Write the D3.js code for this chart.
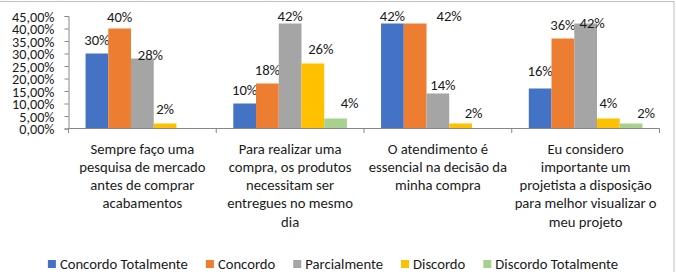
<!DOCTYPE html>
<html>
<head>
<meta charset="utf-8">
<script src="https://cdn.jsdelivr.net/npm/d3@7"></script>
<style>
  body { margin: 0; background: #fff; }
  svg { display: block; font-family: Carlito, "Liberation Sans Narrow", "Arial Narrow", sans-serif; }
</style>
</head>
<body>
<svg width="676" height="272"></svg>
<script>
const categories = [
    'Sempre faço uma\npesquisa de mercado\nantes de comprar\nacabamentos',
    'Para realizar uma\ncompra, os produtos\nnecessitam ser\nentregues no mesmo\ndia',
    'O atendimento é\nessencial na decisão da\nminha compra',
    'Eu considero\nimportante um\nprojetista a disposição\npara melhor visualizar o\nmeu projeto'
];
const seriesNames = ['Concordo Totalmente', 'Concordo', 'Parcialmente', 'Discordo', 'Discordo Totalmente'];
const concordoTotalmente = [30, 10, 42, 16];
const concordo = [40, 18, 42, 36];
const parcialmente = [28, 42, 14, 42];
const discordo = [2, 26, 2, 4];
const discordoTotalmente = [0, 4, 0, 2];
const yTicks = [0, 5, 10, 15, 20, 25, 30, 35, 40, 45];

const seriesValues = [concordoTotalmente, concordo, parcialmente, discordo, discordoTotalmente];
const colors = ['#4472c4', '#ed7d31', '#a5a5a5', '#ffc000', '#a9d18e'];

// hand placed data labels in the original (dx, dy in px from the default spot above the bar)
const labelNudge = [
    [[0, 0], [0, 2], [8, 10], [0, -1], [0, 0]],
    [[0, 0], [0, 0], [0, 6.5], [8, -1], [14, -2]],
    [[0, 6.5], [34, 6.5], [5, 5], [13, 3], [0, 0]],
    [[0, -4], [0, 0], [6.5, 13], [0, -2], [15, 3]]
];

const svg = d3.select('svg');
const textColor = '#1a1a1a';
const fontSize = 14.67;

// chart frame (left edge is cropped off in the original)
svg.append('rect')
    .attr('x', -2).attr('y', 1.5)
    .attr('width', 676).attr('height', 280)
    .attr('fill', 'none')
    .attr('stroke', '#bfbfbf');

const x = d3.scaleBand().domain(d3.range(categories.length)).range([68.5, 659.5]).padding(0);
const xs = d3.scaleBand().domain(d3.range(seriesNames.length)).range([0, x.bandwidth()])
    .paddingInner(0).paddingOuter(0.75);
const y = d3.scaleLinear().domain([0, 45]).range([128.5, 16]);

// bars
const groups = svg.append('g').selectAll('g')
    .data(categories)
    .join('g')
    .attr('transform', (d, i) => `translate(${x(i)},0)`);

groups.each(function(cat, ci) {
    const g = d3.select(this);
    seriesValues.forEach((vals, si) => {
        const v = vals[ci];
        g.append('rect')
            .attr('x', xs(si))
            .attr('y', y(v))
            .attr('width', xs.bandwidth())
            .attr('height', y(0) - y(v))
            .attr('fill', colors[si]);
        if (v > 0) {
            const n = labelNudge[ci][si];
            g.append('text')
                .attr('x', xs(si) + xs.bandwidth() / 2 + n[0])
                .attr('y', y(v) - 14 + n[1])
                .attr('text-anchor', 'middle')
                .attr('dominant-baseline', 'central')
                .attr('font-size', fontSize)
                .attr('fill', textColor)
                .text(v + '%');
        }
    });
});

// y axis
const yAxis = svg.append('g')
    .attr('transform', 'translate(68.5,0)')
    .call(d3.axisLeft(y).tickValues(yTicks).tickSize(4).tickPadding(10)
        .tickFormat(d => d.toFixed(2).replace('.', ',') + '%'));
yAxis.attr('font-family', null).attr('font-size', null);
yAxis.select('.domain').attr('stroke', '#868686');
yAxis.selectAll('.tick line').attr('stroke', '#868686');
yAxis.selectAll('.tick text')
    .attr('font-size', 14.2)
    .attr('fill', textColor)
    .attr('dy', null)
    .attr('dominant-baseline', 'central');

// x axis line + category boundary ticks
const xAxis = svg.append('g');
xAxis.append('line')
    .attr('x1', 68.5).attr('x2', 659.5)
    .attr('y1', 128.5).attr('y2', 128.5)
    .attr('stroke', '#868686');
xAxis.selectAll('line.b')
    .data(d3.range(categories.length + 1))
    .join('line')
    .attr('class', 'b')
    .attr('x1', i => i < categories.length ? x(i) : x.range()[1])
    .attr('x2', i => i < categories.length ? x(i) : x.range()[1])
    .attr('y1', 128.5).attr('y2', 133)
    .attr('stroke', '#868686');

// category labels
categories.forEach((cat, ci) => {
    const t = svg.append('text')
        .attr('text-anchor', 'middle')
        .attr('font-size', fontSize)
        .attr('fill', textColor);
    cat.split('\n').forEach((line, li) => {
        t.append('tspan')
            .attr('x', x(ci) + x.bandwidth() / 2)
            .attr('y', 148.5 + li * 18.3)
            .attr('dominant-baseline', 'central')
            .text(line);
    });
});

// legend
const legend = svg.append('g');
let lx = 0;
seriesNames.forEach((name, si) => {
    const item = legend.append('g');
    item.append('rect')
        .attr('x', 0).attr('y', -4)
        .attr('width', 8).attr('height', 8)
        .attr('fill', colors[si]);
    const txt = item.append('text')
        .attr('x', 12).attr('y', 0)
        .attr('dominant-baseline', 'central')
        .attr('font-size', fontSize)
        .attr('fill', textColor)
        .text(name);
    const w = 12 + txt.node().getComputedTextLength();
    item.attr('transform', `translate(${lx},0)`);
    lx += w + 18;
});
const legendWidth = lx - 18;
legend.attr('transform', `translate(${333 - legendWidth / 2},264)`);
</script>
</body>
</html>
